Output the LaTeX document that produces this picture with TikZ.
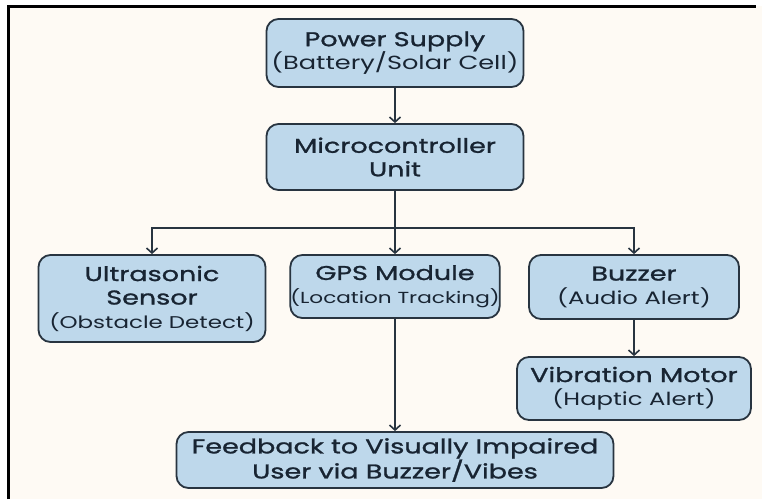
\documentclass[tikz,border=0pt]{standalone}
\usepackage{fontspec}
\setmainfont{Poppins}[FakeStretch=1.35, BoldFont=Poppins, BoldFeatures={FakeBold=1.2}]
\usepackage{tikz}
\usetikzlibrary{arrows.meta, positioning}
\definecolor{boxblue}{RGB}{190,216,235}
\definecolor{boxline}{RGB}{40,52,64}
\definecolor{inktext}{RGB}{24,36,50}
\definecolor{paper}{RGB}{254,250,244}
\newcommand{\paren}[2][18]{{\mdseries\fontsize{#1}{23}\selectfont #2}}

\begin{document}
\begin{tikzpicture}[x=1pt, y=-1pt,
        block/.style={rectangle, draw=boxline, line width=1.8pt, fill=boxblue, text=inktext, align=center, rounded corners=12pt, inner sep=0pt, font=\fontsize{20}{23.5}\selectfont\bfseries},
        line/.style={draw=boxline, line width=1.6pt, -{Straight Barb[length=5pt,width=11pt]}}
    ]
    \useasboundingbox (0,0) rectangle (762,499);
    % Rahmen
    \fill[white] (0,0) rectangle (762,499);
    \fill[paper] (8,6) rectangle (762,499);
    \draw[line width=3pt] (8.5,499) -- (8.5,6.5) -- (756,6.5);

    % Versorgung und Steuerung
    \node[block, minimum width=257pt, minimum height=68pt] (power) at (395,53) {Power Supply\\\paren[19]{(Battery/Solar Cell)}};
    \node[block, minimum width=257pt, minimum height=66pt] (mcu) at (395,157) {Microcontroller\\Unit};

    % Module
    \node[block, minimum width=227pt, minimum height=87pt] (ultra) at (152,298.5) {Ultrasonic\\Sensor\\\paren[17]{(Obstacle Detect)}};
    \node[block, minimum width=206pt, minimum height=63pt] (gps) at (395,286.5) {GPS Module\\\paren[16]{(Location Tracking)}};
    \node[block, minimum width=210pt, minimum height=64pt] (buzzer) at (634,287) {Buzzer\\\paren{(Audio Alert)}};
    \node[block, minimum width=234pt, minimum height=63pt] (vibe) at (634,388.5) {Vibration Motor\\\paren{(Haptic Alert)}};
    \node[block, minimum width=437pt, minimum height=56pt] (feedback) at (395,460) {Feedback to Visually Impaired\\User via Buzzer/Vibes};

    \coordinate (split) at (395,228);

    % Verbindungen
    \path [line] (power) -- (mcu);
    \draw[boxline, line width=1.6pt] (mcu) -- (split);
    \path [line] (split) -| (ultra);
    \path [line] (split) -- (gps);
    \path [line] (split) -| (buzzer);
    \path [line] (buzzer) -- (vibe);
    \path [line] (gps) -- (feedback);
\end{tikzpicture}
\end{document}
